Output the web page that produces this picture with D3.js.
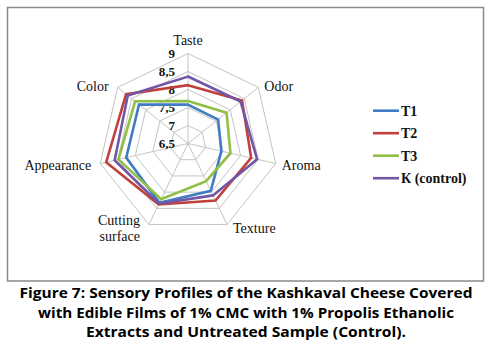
<html>
<style>
body { margin: 0; background: #fff; }
.grid { fill: none; stroke: #c4c4c4; stroke-width: 1; }
.cat { font: 14px "Liberation Serif", "Times New Roman", serif; fill: #111; }
.tick { font: bold 13px "Liberation Serif", "Times New Roman", serif; fill: #111; }
.legend text { font: bold 14px "Liberation Serif", "Times New Roman", serif; fill: #111; }
.caption { font: bold 15px "Open Sans", "Noto Sans", sans-serif; fill: #000; }
</style>
<svg width="492" height="351"></svg>
<script src="https://cdnjs.cloudflare.com/ajax/libs/d3/7.8.5/d3.min.js"></script>
<script>

var categories = ["Taste", "Odor", "Aroma", "Texture", "Cutting surface", "Appearance", "Color"];
var ticks = [6.5, 7, 7.5, 8, 8.5, 9];
var seriesNames = ["T1", "T2", "T3", "К (control)"];
var colors = ["#3f7cc4", "#c0403c", "#8fbf45", "#7356a6"];

var t1 = [7.58, 7.57, 7.45, 7.96, 8.33, 8.26, 8.24];
var t2 = [8.12, 8.42, 8.30, 8.26, 8.38, 8.83, 8.70];
var t3 = [7.68, 7.87, 7.71, 7.66, 8.22, 8.48, 8.38];
var control = [8.36, 8.37, 8.47, 8.10, 8.35, 8.59, 8.64];
var series = [t1, t2, t3, control];

var captionLines = [
  "Figure 7: Sensory Profiles of the Kashkaval Cheese Covered",
  "with Edible Films of 1% CMC with 1% Propolis Ethanolic",
  "Extracts and Untreated Sample (Control)."
];

var svg = d3.select("svg"),
    cx = 188, cy = 143.5, R = 90;

// frame
svg.append("rect")
    .attr("x", 7.5).attr("y", 7.5)
    .attr("width", 476).attr("height", 273.5)
    .attr("fill", "none")
    .attr("stroke", "#8a8a8a")
    .attr("stroke-width", 1.5);

var r = d3.scaleLinear().domain([6.5, 9]).range([0, R]);
var angle = d3.scalePoint().domain(d3.range(categories.length))
    .range([0, 2 * Math.PI * (categories.length - 1) / categories.length]);

function pt(i, v) {
  var a = angle(i);
  return [cx + r(v) * Math.sin(a), cy - r(v) * Math.cos(a)];
}

var g = svg.append("g");

// grid rings
ticks.slice(1).forEach(function(t) {
  g.append("path")
      .attr("class", "grid")
      .attr("d", d3.line()(categories.map((c, i) => pt(i, t))) + "Z");
});

// spokes
categories.forEach(function(c, i) {
  var p = pt(i, 9);
  g.append("line").attr("class", "grid")
      .attr("x1", cx).attr("y1", cy).attr("x2", p[0]).attr("y2", p[1]);
});

// tick labels
ticks.forEach(function(t) {
  g.append("text")
      .attr("class", "tick")
      .attr("x", cx - 13)
      .attr("y", cy - r(t))
      .attr("dy", "0.35em")
      .attr("text-anchor", "end")
      .text(String(t).replace(".", ","));
});

// series
var line = d3.line().curve(d3.curveLinearClosed);
series.forEach(function(s, k) {
  g.append("path")
      .attr("d", line(s.map((v, i) => pt(i, v))))
      .attr("fill", "none")
      .attr("stroke", colors[k])
      .attr("stroke-width", 2.6)
      .attr("stroke-linejoin", "miter");
});

// category labels
categories.forEach(function(c, i) {
  var p = pt(i, 9), a = angle(i), s = Math.sin(a);
  var anchor = Math.abs(s) < 0.1 ? "middle" : (s > 0 ? "start" : "end");
  var x = p[0] + (anchor == "middle" ? 0 : (s > 0 ? 6 : -9));
  var y = anchor == "middle" ? p[1] - 13 : p[1] - 3 * Math.cos(a) + 1;
  var words = c.split(" ");
  var txt = g.append("text").attr("class", "cat")
      .attr("text-anchor", anchor)
      .attr("x", x);
  if (words.length > 1) {
    words.forEach(function(w, j) {
      txt.append("tspan").attr("x", x)
          .attr("y", y + (j - 0.5) * 16)
          .attr("dy", "0.35em")
          .text(w);
    });
  } else {
    txt.attr("y", y).attr("dy", "0.35em").text(c);
  }
});

// legend
var leg = svg.append("g").attr("class", "legend");
seriesNames.forEach(function(n, k) {
  var y = 110.7 + k * 22.5;
  leg.append("line")
      .attr("x1", 373).attr("x2", 399)
      .attr("y1", y).attr("y2", y)
      .attr("stroke", colors[k]).attr("stroke-width", 2.6);
  leg.append("text").attr("x", 401).attr("y", y).attr("dy", "0.35em").text(n);
});

// caption
var capWidths = [453, 416, 320];
captionLines.forEach(function(l, j) {
  svg.append("text")
      .attr("class", "caption")
      .attr("x", 246)
      .attr("y", 298 + j * 19.5)
      .attr("text-anchor", "middle")
      .attr("textLength", capWidths[j])
      .attr("lengthAdjust", "spacingAndGlyphs")
      .text(l);
});
</script>
</html>
